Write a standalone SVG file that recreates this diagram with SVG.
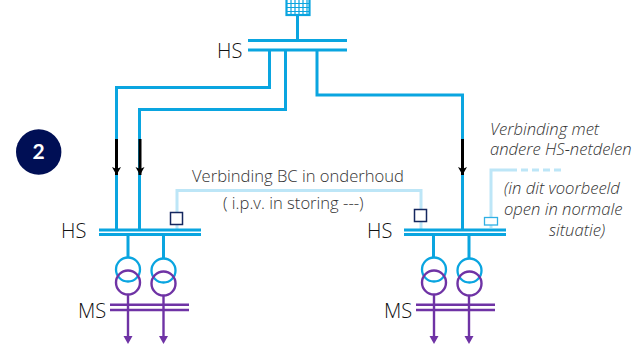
<svg xmlns="http://www.w3.org/2000/svg" width="636" height="345" viewBox="0 0 636 345">
<style>
.hs{stroke:#0aa5e0;stroke-width:3;fill:none}
.hc{stroke:#0aa5e0;stroke-width:2.300;fill:none}
.lb{stroke:#bde6f7;stroke-width:3;fill:none}
.pu{stroke:#6f33a5;stroke-width:2.400;fill:none}
.t{font-family:"Open Sans","Lato",sans-serif;font-weight:300;fill:#333;font-size:16.600px}
.i{font-family:"Open Sans","Lato",sans-serif;font-weight:300;font-style:italic;fill:#333;font-size:16.600px}
.l{font-family:"Open Sans","Lato",sans-serif;font-weight:300;fill:#111;font-size:20px}
.sw{fill:#fff;stroke:#14275f;stroke-width:1.500}
.ar{stroke:#000;stroke-width:3;fill:none}
</style>
<defs>
<marker id="k" markerUnits="userSpaceOnUse" markerWidth="10" markerHeight="10" refX="8" refY="5" orient="auto"><path d="M0 0.500L8 5L0 9.500L2 5Z" fill="#000"/></marker>
<marker id="p" markerUnits="userSpaceOnUse" markerWidth="10" markerHeight="10" refX="5" refY="5" orient="auto"><path d="M0 0.500L8 5L0 9.500Z" fill="#6f33a5"/></marker>
</defs>
<g id="connectors">
<path class="hs" d="M269.500 50V87.500H116.500V230"/>
<path class="hs" d="M285.500 50V109.500H139.500V230"/>
<path class="hs" d="M317 50V95H462.500V230"/>
<path class="hs" d="M297.500 15V40"/>
<path class="lb" d="M177 230V190.500H421V230"/>
<path class="lb" d="M491 228V170H510"/>
<path class="lb" stroke-dasharray="7 4" d="M510 170H561"/>
<path class="ar" d="M116.500 139V175" marker-end="url(#k)"/>
<path class="ar" d="M140 139V175" marker-end="url(#k)"/>
<path class="ar" d="M462.500 139V175" marker-end="url(#k)"/>
</g>
<g id="grid">
<rect x="286.500" y="-2" width="23" height="17" fill="#fff" stroke="#0aa5e0" stroke-width="2.200"/>
<path stroke="#0aa5e0" stroke-width="1.200" d="M291 0V15M295 0V15M299 0V15M303 0V15M307 0V15M286 3.500H310M286 7.500H310M286 11.500H310"/>
</g>
<g id="hs-top">
<path class="hs" d="M248 40.500H347M248 50H347"/>
<text class="l" x="217" y="58">HS</text>
</g>
<g id="badge">
<circle cx="38.700" cy="152" r="22.700" fill="#000f55"/>
<text x="38.700" y="159" text-anchor="middle" font-family="Lato,sans-serif" font-weight="700" font-size="21" fill="#fff">2</text>
</g>
<g id="station-left">
<path class="hs" d="M99 230H201M99 234.500H201M128 235V258M163.500 235V259"/>
<circle cx="128" cy="269.500" r="12" class="hc"/>
<circle cx="163.500" cy="270.500" r="12" class="hc"/>
<circle cx="128" cy="282.500" r="12" class="pu"/>
<circle cx="163.500" cy="283.500" r="12" class="pu"/>
<path class="pu" d="M110 304.700H189M110 310H189"/>
<path class="pu" d="M128 294.500V341" marker-end="url(#p)"/>
<path class="pu" d="M163.500 295.500V341" marker-end="url(#p)"/>
<text class="l" x="61" y="238">HS</text>
<text class="l" x="78" y="318">MS</text>
<rect class="sw" x="170.500" y="212.500" width="12" height="12"/>
</g>
<g id="station-right">
<path class="hs" d="M404 230H506M404 234.500H506M433.500 235V258M469 235V259"/>
<circle cx="434" cy="269.500" r="12" class="hc"/>
<circle cx="469.500" cy="270.500" r="12" class="hc"/>
<circle cx="434" cy="282.500" r="12" class="pu"/>
<circle cx="469.500" cy="283.500" r="12" class="pu"/>
<path class="pu" d="M416 304.700H495M416 310H495"/>
<path class="pu" d="M434 294.500V341" marker-end="url(#p)"/>
<path class="pu" d="M469 295.500V341" marker-end="url(#p)"/>
<text class="l" x="367" y="238">HS</text>
<text class="l" x="384" y="318">MS</text>
<rect class="sw" x="414.500" y="209.500" width="12" height="12"/>
<rect x="484.500" y="217.500" width="13" height="7.500" fill="#fff" stroke="#2fb0e5" stroke-width="1.300"/>
</g>
<g id="labels">
<text class="t" x="192" y="182">Verbinding BC in onderhoud</text>
<text class="t" x="223" y="209">( i.p.v. in storing ---)</text>
<text class="i" x="490" y="135">Verbinding met</text>
<text class="i" x="490" y="155">andere HS-netdelen</text>
<text class="i" x="504" y="194">(in dit voorbeeld</text>
<text class="i" x="504" y="215">open in normale</text>
<text class="i" x="549" y="236">situatie)</text>
</g>
</svg>
